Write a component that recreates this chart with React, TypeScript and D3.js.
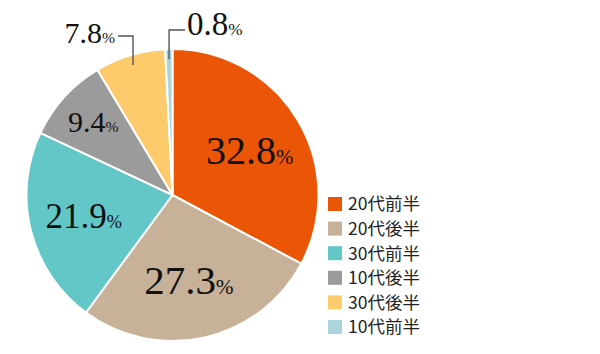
import React from "react";
import * as d3 from "d3";

// share of respondents by age group (percent)
const categories = ["20代前半", "20代後半", "30代前半", "10代後半", "30代後半", "10代前半"];
const values = [32.8, 27.3, 21.9, 9.4, 7.8, 0.8];
const colors = ["#EA5506", "#C7B299", "#62C7C6", "#9B9B9B", "#FECB6C", "#ABD4DD"];

// label font size per slice (numbers), % is about half
const labelSize = [40, 41, 35, 30, 30, 33];

const W = 600;
const H = 354;
const cx = 172.5;
const cy = 195;
const R = 146;

type Datum = { name: string; value: number; color: string; size: number; i: number };

const data: Datum[] = categories.map((name, i) => ({
  name,
  value: values[i],
  color: colors[i],
  size: labelSize[i],
  i,
}));

const App: React.FC = () => {
  const pie = d3
    .pie<Datum>()
    .sort(null)
    .value(d => d.value);
  const arcs = pie(data);

  const arc = d3.arc<d3.PieArcDatum<Datum>>().innerRadius(0).outerRadius(R);

  // where the numbers sit: big slices near the middle, small ones further out
  const labelArc = (d: d3.PieArcDatum<Datum>) => {
    const k = d.data.value > 15 ? 0.6 : 0.75;
    return d3.arc<d3.PieArcDatum<Datum>>().innerRadius(R * k).outerRadius(R * k).centroid(d);
  };

  const percent = (d: Datum, x: number, y: number, anchor: string) => (
    <text
      x={x}
      y={y}
      textAnchor={anchor}
      fontFamily="'Liberation Serif', 'Times New Roman', serif"
      fontSize={d.size}
      fill="#111"
    >
      {d.value.toFixed(1)}
      <tspan fontSize={d.size * 0.52}>%</tspan>
    </text>
  );

  const legendY = d3
    .scalePoint<string>()
    .domain(categories)
    .range([204, 327]);

  return (
    <svg width={W} height={H} style={{ position: "absolute", left: 0, top: 0, background: "#fff" }}>
      <g transform={`translate(${cx},${cy})`}>
        {arcs.map(d => (
          <path key={d.data.name} d={arc(d) as string} fill={d.data.color} stroke="#fff" strokeWidth={2} />
        ))}
        {arcs.map(d => {
          if (d.data.value < 9) return null;
          const [x, y] = labelArc(d);
          const nudge = d.data.value > 20 && d.data.value < 25 ? -4 : d.data.value > 25 && d.data.value < 30 ? -3 : 2;
          return <g key={"l" + d.data.name}>{percent(d.data, x + nudge, y + d.data.size * 0.34, "middle")}</g>;
        })}
        {arcs.map(d => {
          if (d.data.value >= 9) return null;
          const mid = (d.startAngle + d.endAngle) / 2;
          const px = R * 0.93 * Math.sin(mid);
          const py = -R * 0.93 * Math.cos(mid);
          const left = d.data.value > 3;
          const ey = left ? -R - 13 : -R - 19;
          const ex = left ? px - 15 : px + 16;
          const tx = left ? ex - 3 : ex + 2;
          return (
            <g key={"o" + d.data.name}>
              <polyline
                points={`${px},${py} ${px},${ey} ${ex},${ey}`}
                fill="none"
                stroke="#555"
                strokeWidth={1.4}
              />
              {percent(d.data, tx, ey + (left ? 7 : 5), left ? "end" : "start")}
            </g>
          );
        })}
      </g>
      <g>
        {data.map(d => (
          <g key={"lg" + d.name} transform={`translate(328,${legendY(d.name)})`}>
            <rect x={0} y={-7} width={14} height={14} fill={d.color} />
            <text
              x={20}
              y={0}
              dy="0.36em"
              fontFamily="'Noto Sans CJK JP', 'Noto Sans', sans-serif"
              fontSize={17.5}
              fill="#222"
            >
              {d.name}
            </text>
          </g>
        ))}
      </g>
    </svg>
  );
};

export default App;
